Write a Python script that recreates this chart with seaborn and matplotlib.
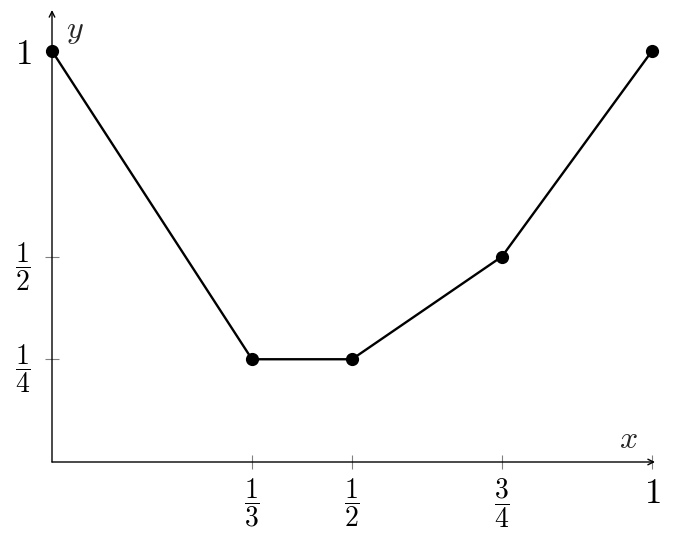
import matplotlib
matplotlib.use("Agg")
import matplotlib.pyplot as plt
import seaborn as sns
import pandas as pd

x_vals = [0, 1/3, 1/2, 3/4, 1]
y_vals = [1, 1/4, 1/4, 1/2, 1]
xticks = [1/3, 1/2, 3/4, 1]
xticklabels = [r"$\dfrac{1}{3}$", r"$\dfrac{1}{2}$", r"$\dfrac{3}{4}$", r"$1$"]
yticks = [1/4, 1/2, 1]
yticklabels = [r"$\dfrac{1}{4}$", r"$\dfrac{1}{2}$", r"$1$"]

sns.set_style("white")
plt.rcParams["mathtext.fontset"] = "cm"
plt.rcParams["font.family"] = ["DejaVu Serif"]

W, H = 688, 535
fig = plt.figure(figsize=(W/100, H/100), dpi=100)
left, bottom = 52, 73
right, top = 655, 525
ax = fig.add_axes([left/W, bottom/H, (right-left)/W, (top-bottom)/H])

df = pd.DataFrame({"x": x_vals, "y": y_vals})
sns.lineplot(data=df, x="x", y="y", ax=ax, color="black", linewidth=1.7,
             marker="o", markersize=9.5, markeredgewidth=0, sort=False, clip_on=False, zorder=5)

ax.set_xlim(0, 3/600 + 1)
ax.set_ylim(0, (462-10)/411)
for s in ax.spines.values():
    s.set_visible(False)

ax.annotate("", xy=(1, 0), xycoords="axes fraction", xytext=(0, 0),
            arrowprops=dict(arrowstyle="->", color="black", lw=1.0, shrinkA=0, shrinkB=0))
ax.annotate("", xy=(0, 1), xycoords="axes fraction", xytext=(0, 0),
            arrowprops=dict(arrowstyle="->", color="black", lw=1.0, shrinkA=0, shrinkB=0))

ax.set_xticks(xticks)
ax.set_xticklabels(xticklabels)
ax.set_yticks(yticks)
ax.set_yticklabels(yticklabels)
ax.tick_params(axis="both", direction="inout", length=10, width=0.8, color="gray",
               labelsize=20, labelcolor="black", bottom=True, left=True)
ax.tick_params(axis="x", pad=5)
ax.tick_params(axis="y", pad=10)
ax.yaxis.get_major_ticks()[2].tick1line.set_visible(False)
ax.xaxis.get_majorticklabels()[3].set_fontsize(25)
ax.yaxis.get_majorticklabels()[2].set_fontsize(25)

ax.set_xlabel("")
ax.set_ylabel("")
fig.text(628/W, 1-440/H, r"$x$", fontsize=23, ha="center", va="center")
fig.text(75/W, 1-30/H, r"$y$", fontsize=23, ha="center", va="center")

fig.savefig("out.png", dpi=100)
